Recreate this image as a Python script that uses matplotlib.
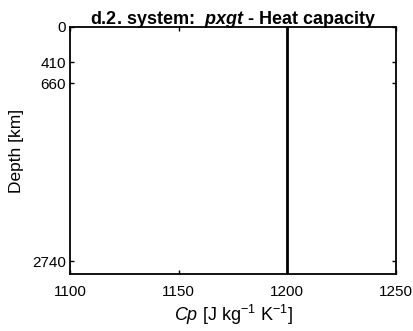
import numpy as np
import matplotlib
matplotlib.use('Agg')
import matplotlib.pyplot as plt

plt.rcParams['font.family'] = ['Liberation Sans', 'DejaVu Sans']
plt.rcParams['mathtext.fontset'] = 'custom'
plt.rcParams['mathtext.rm'] = 'Liberation Sans'
plt.rcParams['mathtext.it'] = 'Liberation Sans:italic'
plt.rcParams['mathtext.bf'] = 'Liberation Sans:bold'
plt.rcParams['mathtext.bfit'] = 'Liberation Sans:bold:italic'

# data
depth = [0, 2891]
cp = [1200, 1200]
xticks = [1100, 1150, 1200, 1250]
yticks = [0, 410, 660, 2740]

fig = plt.figure(figsize=(4.13, 3.31), dpi=100)
ax = fig.add_axes([70/413, 1-274/331, 326/413, 247/331])
ax.plot(cp, depth, color='k', lw=2)
ax.set_xlim(1100, 1250)
ax.set_ylim(2891, 0)
ax.set_xticks(xticks)
ax.set_yticks(yticks)
ax.tick_params(direction='in', top=True, right=True, labelsize=11, length=3, width=1)
ax.tick_params(axis='x', pad=8)
ax.tick_params(axis='y', pad=3)
for s in ax.spines.values():
    s.set_linewidth(1.3)
ax.set_xlabel(r'$Cp$ [J kg$^{-1}$ K$^{-1}$]', fontsize=13, labelpad=3)
ax.set_ylabel('Depth [km]', fontsize=12.5, labelpad=6)
ax.set_title(r'd.2. system:  $\boldsymbol{pxgt}$ - Heat capacity', fontsize=13, fontweight='bold', pad=2)

fig.savefig('out.png', dpi=100)
